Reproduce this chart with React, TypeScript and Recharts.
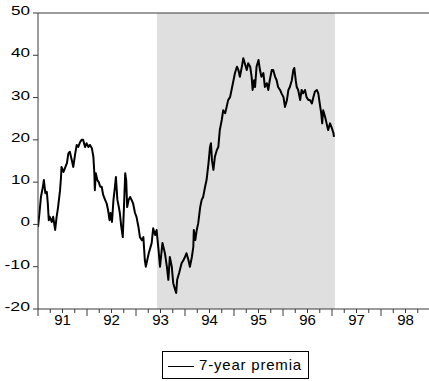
import React from 'react';
import { LineChart, Line, XAxis, YAxis, ReferenceArea, ReferenceLine } from 'recharts';

// Year labels on the time axis (two-digit) and value ticks
const yearLabels = [91, 92, 93, 94, 95, 96, 97, 98];
const yTicks = [-20, -10, 0, 10, 20, 30, 40, 50];

// Shaded period (decimal years)
const shadeStart = 1992.93;
const shadeEnd = 1996.56;

// Observation dates (decimal years) and the 7-year premia at each date
const dates = [
  1990.5, 1990.53, 1990.56, 1990.6, 1990.62, 1990.65, 1990.68, 1990.7, 1990.72, 1990.74,
  1990.78, 1990.81, 1990.85, 1990.88, 1990.91, 1990.95, 1990.97, 1990.98, 1991.02, 1991.05,
  1991.09, 1991.12, 1991.15, 1991.19, 1991.22, 1991.26, 1991.29, 1991.32, 1991.36, 1991.39,
  1991.42, 1991.46, 1991.49, 1991.53, 1991.56, 1991.6, 1991.63, 1991.65, 1991.66, 1991.68,
  1991.71, 1991.74, 1991.77, 1991.8, 1991.83, 1991.87, 1991.9, 1991.93, 1991.96, 1991.98,
  1992.01, 1992.04, 1992.07, 1992.09, 1992.12, 1992.15, 1992.17, 1992.2, 1992.23, 1992.26,
  1992.28, 1992.3, 1992.32, 1992.35, 1992.38, 1992.41, 1992.44, 1992.48, 1992.51, 1992.55,
  1992.58, 1992.62, 1992.65, 1992.68, 1992.7, 1992.73, 1992.76, 1992.79, 1992.82, 1992.85,
  1992.89, 1992.92, 1992.96, 1992.99, 1993.04, 1993.09, 1993.13, 1993.16, 1993.19, 1993.23,
  1993.26, 1993.3, 1993.32, 1993.34, 1993.38, 1993.43, 1993.47, 1993.5, 1993.53, 1993.57,
  1993.6, 1993.64, 1993.67, 1993.68, 1993.71, 1993.74, 1993.77, 1993.81, 1993.84, 1993.87,
  1993.91, 1993.94, 1993.98, 1994.01, 1994.03, 1994.05, 1994.08, 1994.11, 1994.15, 1994.18,
  1994.21, 1994.25, 1994.28, 1994.32, 1994.35, 1994.38, 1994.42, 1994.45, 1994.49, 1994.52,
  1994.56, 1994.59, 1994.62, 1994.66, 1994.69, 1994.72, 1994.76, 1994.79, 1994.83, 1994.86,
  1994.88, 1994.91, 1994.93, 1994.96, 1995.0, 1995.03, 1995.06, 1995.1, 1995.13, 1995.17,
  1995.2, 1995.23, 1995.27, 1995.3, 1995.34, 1995.37, 1995.4, 1995.44, 1995.47, 1995.51,
  1995.54, 1995.58, 1995.61, 1995.64, 1995.68, 1995.71, 1995.73, 1995.76, 1995.78, 1995.81,
  1995.85, 1995.88, 1995.91, 1995.95, 1995.98, 1996.02, 1996.05, 1996.09, 1996.12, 1996.15,
  1996.19, 1996.22, 1996.26, 1996.28, 1996.3, 1996.32, 1996.36, 1996.39, 1996.42, 1996.46,
  1996.49, 1996.53, 1996.54,
];

const premia = [
  -0.6, 2.7, 6.5, 8.9, 10.5, 7.4, 7.7, 5.0, 1.0, 1.8,
  0.6, 1.8, -1.3, 1.8, 4.1, 8.1, 11.2, 13.6, 12.4, 13.3,
  14.5, 16.8, 17.2, 15.2, 13.6, 16.8, 18.8, 18.3, 19.5, 20.0,
  20.0, 18.3, 19.2, 18.3, 18.8, 18.0, 16.0, 12.1, 8.1, 12.1,
  10.5, 10.0, 8.9, 8.9, 7.0, 5.8, 5.0, 3.4, 1.0, 2.7,
  0.6, 5.8, 8.9, 11.2, 5.8, 4.1, 2.7, -0.6, -3.0, 5.8,
  12.1, 10.5, 4.1, 5.8, 6.5, 5.8, 5.0, 2.7, 1.8, -0.6,
  -3.0, -3.7, -3.0, -8.4, -10.0, -8.4, -6.8, -5.6, -4.4, -0.9,
  -2.5, -1.3, -6.0, -10.0, -4.4, -6.8, -10.0, -13.1, -7.7, -10.0,
  -13.9, -15.5, -16.2, -13.1, -11.5, -9.2, -8.4, -7.7, -6.8, -8.4,
  -10.0, -7.7, -5.3, -1.3, -3.7, -1.3, 0.3, 4.1, 5.8, 6.5,
  8.9, 10.5, 14.5, 18.3, 19.2, 15.2, 12.9, 16.0, 17.6, 18.3,
  22.3, 24.7, 27.0, 26.3, 27.8, 29.4, 30.1, 31.8, 34.1, 35.8,
  37.3, 36.5, 34.9, 37.3, 39.3, 38.1, 36.5, 38.1, 37.3, 34.9,
  31.8, 34.1, 32.5, 37.3, 38.9, 36.5, 34.9, 35.8, 32.5, 33.4,
  31.8, 34.1, 36.5, 36.5, 34.9, 34.1, 32.5, 31.8, 31.0, 30.1,
  27.8, 29.4, 31.8, 32.5, 34.1, 36.5, 37.0, 34.1, 32.5, 31.8,
  29.4, 31.8, 31.0, 31.8, 30.1, 29.4, 29.4, 28.6, 30.1, 31.4,
  31.8, 31.0, 27.8, 26.3, 23.9, 27.0, 25.4, 23.9, 22.3, 23.9,
  23.0, 21.6, 20.7,
];

const data = dates.map((t, i) => ({ t, v: premia[i] }));

// quarter ticks; the half-year ones are the long ones
const xTicks: number[] = [];
yearLabels.forEach((yr) => {
  const y = 1900 + yr;
  xTicks.push(y - 0.5, y - 0.25, y, y + 0.25);
});
xTicks.push(1900 + yearLabels[yearLabels.length - 1] + 0.5);

const axisColor = '#3a3a3a';
const font = 'Arial, "Liberation Sans", sans-serif';

const XTick = ({ x, y, payload }: any) => {
  const v = payload.value;
  const major = Math.abs(v - Math.floor(v) - 0.5) < 1e-6;
  const whole = Math.abs(v - Math.round(v)) < 1e-6;
  return (
    <g>
      <line x1={x} x2={x} y1={y} y2={y + (major ? 7 : 4)} stroke={axisColor} />
      {whole && (
        <text x={x} y={y + 16} textAnchor="middle" fontSize={15} fontFamily={font} fill="#000">
          {String(Math.round(v) % 100)}
        </text>
      )}
    </g>
  );
};

const YTick = ({ x, y, payload }: any) => {
  const label = String(payload.value);
  const digits = label.replace('-', '').length;
  const len = digits * 9.5 + (label.startsWith('-') ? 6.5 : 0);
  return (
    <g>
      <line x1={x - 5} x2={x} y1={y} y2={y} stroke={axisColor} />
      <text
        x={x - 8}
        y={y + 2}
        textAnchor="end"
        fontSize={13}
        fontFamily={font}
        fill="#000"
        textLength={len}
        lengthAdjust="spacingAndGlyphs"
      >
        {label}
      </text>
    </g>
  );
};

export default function App() {
  return (
    <div style={{ position: 'absolute', left: 0, top: 0, width: 429, height: 381, background: '#fff', overflow: 'hidden' }}>
      <LineChart width={431} height={381} data={data} margin={{ top: 13, right: 1, bottom: 0, left: 0 }}>
        <ReferenceArea x1={shadeStart} x2={shadeEnd} y1={-20} y2={50} fill="#dfdfdf" fillOpacity={1} stroke="none" />
        <XAxis
          dataKey="t"
          type="number"
          domain={[1990.5, 1998.5]}
          ticks={xTicks}
          interval={0}
          tick={<XTick />}
          tickLine={false}
          tickSize={0}
          tickMargin={0}
          height={72}
          stroke={axisColor}
          allowDataOverflow
        />
        <YAxis
          type="number"
          domain={[-20, 50]}
          ticks={yTicks}
          interval={0}
          tick={<YTick />}
          tickLine={false}
          tickSize={0}
          tickMargin={0}
          width={38}
          stroke={axisColor}
          allowDataOverflow
        />
        <ReferenceLine y={50} stroke={axisColor} />
        <Line dataKey="v" stroke="#000" strokeWidth={2} strokeLinejoin="round" dot={false} isAnimationActive={false} />
      </LineChart>
      <div
        style={{
          position: 'absolute',
          left: 162,
          top: 351,
          width: 147,
          height: 28,
          boxSizing: 'border-box',
          border: '1px solid #000',
          fontFamily: font,
        }}
      >
        <div style={{ position: 'absolute', left: 5, top: 14, width: 26, borderTop: '1px solid #000' }} />
        <div style={{ position: 'absolute', left: 36, top: 4, fontSize: 15, letterSpacing: 0.8, lineHeight: '18px', color: '#000', whiteSpace: 'nowrap' }}>
          7-year premia
        </div>
      </div>
    </div>
  );
}
